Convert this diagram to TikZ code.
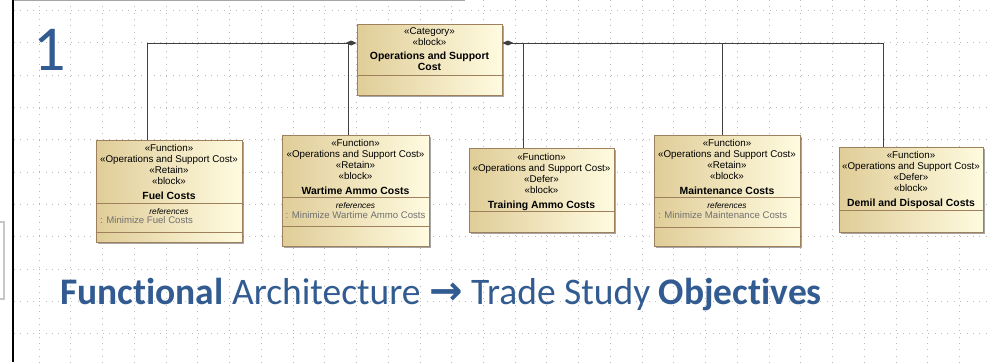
\documentclass[tikz,border=0pt]{standalone}
\usepackage{fontspec}
\newfontfamily\umlfont{Liberation Sans}
\newfontfamily\slidefont[Ligatures=NoCommon]{Carlito}
\newfontfamily\arrowfont{DejaVu Sans}
\usetikzlibrary{arrows.meta,shadows}

\definecolor{blockedge}{RGB}{158,128,92}
\definecolor{blocktan}{RGB}{224,205,152}
\definecolor{blockcream}{RGB}{255,251,224}
\definecolor{slideblue}{RGB}{50,92,145}
\definecolor{refgray}{RGB}{112,112,112}

\newcommand\blockname[1]{{\fontsize{10.4}{11}\selectfont\bfseries #1}}

\begin{document}
\begin{tikzpicture}[x=1pt,y=-1pt,
	block/.style={draw=blockedge, line width=0.8pt, rectangle, inner sep=0pt,
		left color=blocktan, right color=blockcream,
		drop shadow={shadow xshift=1.6pt, shadow yshift=-1.6pt, fill=black, opacity=0.35}},
	stereo/.style={font=\umlfont\fontsize{9.8}{11}\selectfont, align=center, inner sep=0pt, anchor=north},
	refkey/.style={font=\umlfont\fontsize{8.3}{9}\selectfont\itshape, inner sep=0pt, anchor=north},
	refval/.style={font=\umlfont\fontsize{9.6}{11}\selectfont, text=refgray, inner sep=0pt, anchor=base west},
	compartment/.style={draw=blockedge, line width=0.8pt},
	gridline/.style={draw=gray!55, line width=0.7pt, dash pattern=on 0.7pt off 5.65pt},
	link/.style={draw=black!75, line width=0.8pt},
	comp/.style={link, {Diamond[length=11pt, width=5pt]}-}
	]
	
	\useasboundingbox (0,0) rectangle (990,362);
	\fill[white] (0,0) rectangle (990,362);
	
	%-----------------------
	% Dotted drawing grid
	%-----------------------
	\foreach \gx in {0,...,29}
		\draw[gridline] ({39+\gx*31.74},0) -- ({39+\gx*31.74},362);
	\foreach \gy in {0,...,10}
		\draw[gridline] (14,{10.5+\gy*32.3}) -- (990,{10.5+\gy*32.3});
	
	% window edges
	\draw[gray!70, line width=1.5pt] (12,0.6) -- (465,0.6);
	\draw[gray!45, line width=1.2pt] (-4,222) -- (4,222) -- (4,299) -- (-4,299);
	\draw[black, line width=2.6pt] (13,0) -- (13,362);
	
	%-----------------------
	% Slide number and caption
	%-----------------------
	\node[anchor=base west, inner sep=0pt, text=slideblue,
		font=\slidefont\fontsize{64}{64}\selectfont] (pagenum) at (33,70) {1};
	\node[anchor=base west, inner sep=0pt, text=slideblue,
		font=\slidefont\fontsize{37.5}{40}\selectfont] (caption) at (60,304)
		{\textbf{Functional} Architecture {\arrowfont\bfseries\fontsize{40}{40}\selectfont →} Trade Study \textbf{Objectives}};
	
	%-----------------------
	% Top block
	%-----------------------
	\node[block, minimum width=145pt, minimum height=71pt] (opsc) at (429.5,59.5) {};
	\node[stereo] (opsc-head) at (429.5,27.8)
		{«Category»\\«block»\\[3pt]\blockname{Operations and Support}\\\blockname{Cost}};
	\draw[compartment] ([yshift=-52pt]opsc.north west) -- ([yshift=-52pt]opsc.north east);
	
	%-----------------------
	% Function blocks
	%-----------------------
	\node[block, minimum width=146pt, minimum height=102pt] (fuel) at (169,191) {};
	\node[stereo] (fuel-head) at (169,143.8)
		{«Function»\\«Operations and Support Cost»\\«Retain»\\«block»\\[4pt]\blockname{Fuel Costs}};
	\draw[compartment] ([yshift=-64pt]fuel.north west) -- ([yshift=-64pt]fuel.north east);
	\draw[compartment] ([yshift=-93pt]fuel.north west) -- ([yshift=-93pt]fuel.north east);
	\node[refkey] (fuel-refs) at (169,208.3) {references};
	\node[refval] (fuel-val) at (100,223.5) {: Minimize Fuel Costs};
	
	\node[block, minimum width=147pt, minimum height=111pt] (wartime) at (355.5,190.5) {};
	\node[stereo] (wartime-head) at (355.5,138.8)
		{«Function»\\«Operations and Support Cost»\\«Retain»\\«block»\\[4pt]\blockname{Wartime Ammo Costs}};
	\draw[compartment] ([yshift=-63pt]wartime.north west) -- ([yshift=-63pt]wartime.north east);
	\draw[compartment] ([yshift=-92pt]wartime.north west) -- ([yshift=-92pt]wartime.north east);
	\node[refkey] (wartime-refs) at (355.5,202.3) {references};
	\node[refval] (wartime-val) at (285.5,218.5) {: Minimize Wartime Ammo Costs};
	
	\node[block, minimum width=145pt, minimum height=84pt] (training) at (541.5,190) {};
	\node[stereo] (training-head) at (541.5,152.8)
		{«Function»\\«Operations and Support Cost»\\«Defer»\\«block»\\[4pt]\blockname{Training Ammo Costs}};
	\draw[compartment] ([yshift=-64pt]training.north west) -- ([yshift=-64pt]training.north east);
	
	\node[block, minimum width=146pt, minimum height=111pt] (maint) at (727,190.5) {};
	\node[stereo] (maint-head) at (727,138.8)
		{«Function»\\«Operations and Support Cost»\\«Retain»\\«block»\\[4pt]\blockname{Maintenance Costs}};
	\draw[compartment] ([yshift=-63pt]maint.north west) -- ([yshift=-63pt]maint.north east);
	\draw[compartment] ([yshift=-93pt]maint.north west) -- ([yshift=-93pt]maint.north east);
	\node[refkey] (maint-refs) at (727,202.3) {references};
	\node[refval] (maint-val) at (658,218.5) {: Minimize Maintenance Costs};
	
	\node[block, minimum width=144pt, minimum height=85pt] (demil) at (911,189.5) {};
	\node[stereo] (demil-head) at (911,150.8)
		{«Function»\\«Operations and Support Cost»\\«Defer»\\«block»\\[4pt]\blockname{Demil and Disposal Costs}};
	\draw[compartment] ([yshift=-64pt]demil.north west) -- ([yshift=-64pt]demil.north east);
	
	%-----------------------
	% Composition links
	%-----------------------
	\coordinate (tapL) at ([yshift=16.5pt]opsc.west);
	\coordinate (tapR) at ([yshift=16.5pt]opsc.east);
	
	% left side
	\draw[comp] (tapL) -| ([xshift=-22pt]fuel.north);
	\draw[link] ([xshift=-7pt]wartime.north) -- ([xshift=-7pt]wartime.north |- tapL);
	
	% right side
	\draw[comp] (tapR) -| ([xshift=-28pt]demil.north);
	\draw[link] ([xshift=-18.5pt]training.north) -- ([xshift=-18.5pt]training.north |- tapR);
	\draw[link] ([xshift=-5pt]maint.north) -- ([xshift=-5pt]maint.north |- tapR);
	
\end{tikzpicture}
\end{document}
